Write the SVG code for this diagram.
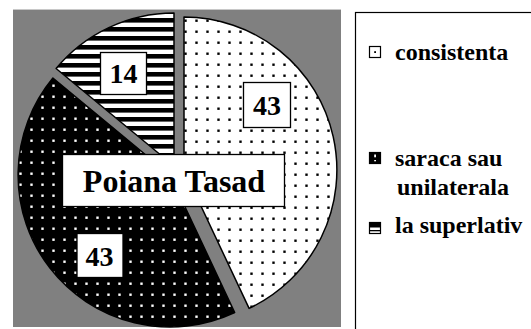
<svg xmlns="http://www.w3.org/2000/svg" width="531" height="329" viewBox="0 0 531 329">
<defs>
<pattern id="dotsW" patternUnits="userSpaceOnUse" width="11" height="11">
<rect width="11" height="11" fill="#fff"/>
<rect x="8.3" y="8.5" width="2.4" height="2.4" fill="#000"/>
</pattern>
<pattern id="dotsB" patternUnits="userSpaceOnUse" width="11" height="11">
<rect width="11" height="11" fill="#000"/>
<rect x="8.3" y="7.5" width="2.4" height="2.4" fill="#fff"/>
</pattern>
<pattern id="stripes" patternUnits="userSpaceOnUse" width="10" height="9">
<rect width="10" height="9" fill="#fff"/>
<rect y="0" width="10" height="4.6" fill="#000"/>
</pattern>
<style>
.slice{stroke:#000;stroke-width:1.5;stroke-linejoin:round}
.box{fill:#fff;stroke:#000;stroke-width:1.3}
.lbl{font-weight:bold;fill:#000;text-anchor:middle}
.leg{font-weight:bold;font-size:24px;fill:#000}
.mk{stroke:#000;stroke-width:1.2}
</style>
</defs>
<rect width="531" height="329" fill="#fff"/>
<g id="plot-area">
<rect x="13" y="10" width="328" height="317" fill="#808080"/>
<line x1="13" y1="9.5" x2="341" y2="9.5" stroke="#c8c8c8" stroke-width="1"/>
</g>
<g id="slice-consistenta">
<path class="slice" fill="url(#dotsW)" d="M184,170 L184,17 A153,153 0 0 1 249.1,308.4 Z"/>
</g>
<g id="slice-saraca">
<path class="slice" fill="url(#dotsB)" d="M170,175 L234.7,312.5 A152,152 0 0 1 52.9,78.1 Z"/>
</g>
<g id="slice-superlativ">
<path class="slice" fill="url(#stripes)" d="M174,166 L56.1,68.5 A153,153 0 0 1 174,13 Z"/>
</g>
<g id="connectors"></g>
<g font-family="Liberation Serif, DejaVu Serif, serif">
<g id="label-43-consistenta">
<rect class="box" x="243.5" y="82.5" width="47" height="45"/>
<text class="lbl" x="267" y="115" font-size="28">43</text>
</g>
<g id="label-14">
<rect class="box" x="100.5" y="52.5" width="46" height="42"/>
<text class="lbl" x="123.5" y="83" font-size="28">14</text>
</g>
<g id="label-43-saraca">
<rect class="box" x="77" y="233.5" width="46" height="44"/>
<text class="lbl" x="99.5" y="266" font-size="28">43</text>
</g>
<g id="title">
<rect class="box" x="62.5" y="154.5" width="222" height="52"/>
<text class="lbl" x="174" y="192" font-size="32">Poiana Tasad</text>
</g>
<g id="legend">
<rect x="355.5" y="12.5" width="200" height="330" fill="#fff" stroke="#000" stroke-width="1.2"/>
<g id="legend-consistenta">
<rect class="mk" x="369.5" y="46.5" width="11" height="11" fill="#fff"/>
<rect x="374.2" y="51.2" width="1.8" height="1.8" fill="#000"/>
<text class="leg" x="395" y="60">consistenta</text>
</g>
<g id="legend-saraca">
<rect class="mk" x="369.5" y="152.5" width="11" height="11" fill="#000"/>
<rect x="374.2" y="154.5" width="1.8" height="2.8" fill="#fff"/>
<rect x="374.2" y="160" width="1.8" height="1.3" fill="#fff"/>
<text class="leg" x="395" y="166">saraca sau</text>
<text class="leg" x="397" y="195">unilaterala</text>
</g>
<g id="legend-superlativ">
<rect class="mk" x="369.5" y="222.5" width="11" height="11" fill="#fff"/>
<rect x="369.5" y="222.5" width="11" height="5" fill="#000"/>
<rect x="369.5" y="230" width="11" height="1.3" fill="#000"/>
<text class="leg" x="395" y="233">la superlativ</text>
</g>
</g>
</g>
</svg>
